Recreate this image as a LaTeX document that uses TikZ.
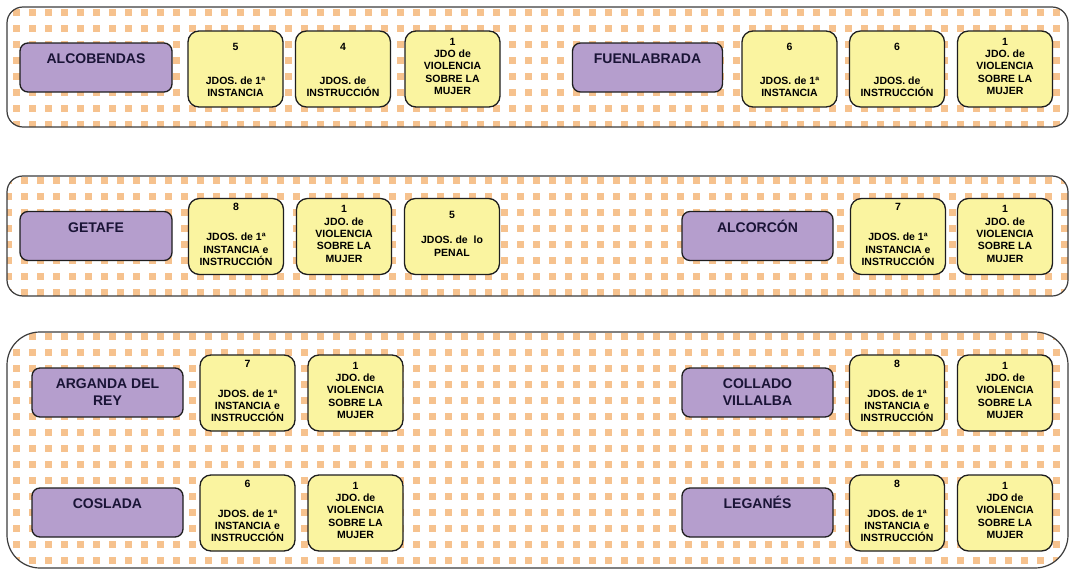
\documentclass[tikz,border=0pt]{standalone}
\usepackage{fontspec}
\setmainfont{Liberation Sans}

\definecolor{panelline}{RGB}{60,60,60}
\definecolor{dotfill}{RGB}{246,194,142}
\definecolor{cityfill}{RGB}{181,158,205}
\definecolor{courtfill}{RGB}{250,244,160}
\definecolor{boxline}{RGB}{30,30,30}
\definecolor{citytextcol}{RGB}{26,20,54}

% first-line struts so every label starts at the same height
\newcommand\citystrut{\rule{0pt}{14pt}}
\newcommand\courtstrut{\rule{0pt}{8pt}}

% orange square grid: x0, y0, last column index, last row index
\newcommand\dotgrid[4]{%
  \foreach \i in {0,...,#3}{%
    \foreach \j in {0,...,#4}{%
      \fill[dotfill] (#1+16*\i-3.5, #2+16*\j-3.5) rectangle ++(7,7);
    }%
  }%
}

\begin{document}
\begin{tikzpicture}[x=1pt,y=-1pt,
  panel/.style={draw=panelline, line width=1.2pt},
  city/.style={draw=boxline, fill=cityfill, line width=1.3pt, rounded corners=8pt,
    minimum width=152pt, minimum height=49pt, inner sep=0pt},
  court/.style={draw=boxline, fill=courtfill, line width=1.3pt, rounded corners=11pt,
    minimum width=95pt, minimum height=76pt, inner sep=0pt},
  citytext/.style={anchor=north, inner sep=0pt, align=center, text=citytextcol,
    font=\fontsize{14}{17}\selectfont\bfseries},
  courttext/.style={anchor=north, inner sep=0pt, align=center, text=black,
    font=\fontsize{10.5}{12.3}\selectfont\bfseries},
]
\useasboundingbox (0,0) rectangle (1071,570);
\fill[white] (0,0) rectangle (1071,570);

% ---------- dotted panels ----------
\begin{scope}
  \clip[rounded corners=16pt] (7,7) rectangle (1068,127);
  \dotgrid{0}{12}{67}{7}
\end{scope}
\draw[panel, rounded corners=16pt] (7,7) rectangle (1068,127);

\begin{scope}
  \clip[rounded corners=16pt] (7,176) rectangle (1068,296);
  \dotgrid{8}{180}{66}{7}
\end{scope}
\draw[panel, rounded corners=16pt] (7,176) rectangle (1068,296);

\begin{scope}
  \clip[rounded corners=33pt] (7,332) rectangle (1068,568);
  \dotgrid{0}{336}{67}{14}
\end{scope}
\draw[panel, rounded corners=33pt] (7,332) rectangle (1068,568);

% ---------- Alcobendas ----------
\node[city] (alc) at (96,67.5) {};
\node[citytext] (alct) at ([yshift=-7pt]alc.north) {\citystrut ALCOBENDAS};
\node[court] (alc1) at (235.5,69) {};
\node[courttext] (alc1t) at ([yshift=-11.75pt]alc1.north) {\courtstrut 5\\[22pt]JDOS. de 1ª\\INSTANCIA};
\node[court] (alc2) at (343,69) {};
\node[courttext] (alc2t) at ([yshift=-11.75pt]alc2.north) {\courtstrut 4\\[22pt]JDOS. de\\INSTRUCCIÓN};
\node[court] (alc3) at (452.5,69) {};
\node[courttext] (alc3t) at ([yshift=-6.75pt]alc3.north) {\courtstrut 1\\JDO de\\VIOLENCIA\\SOBRE LA\\MUJER};

% ---------- Fuenlabrada ----------
\node[city, minimum width=150pt] (fue) at (647.5,67.5) {};
\node[citytext] (fuet) at ([yshift=-7pt]fue.north) {\citystrut FUENLABRADA};
\node[court] (fue1) at (789.5,69) {};
\node[courttext] (fue1t) at ([yshift=-11.75pt]fue1.north) {\courtstrut 6\\[22pt]JDOS. de 1ª\\INSTANCIA};
\node[court] (fue2) at (897,69) {};
\node[courttext] (fue2t) at ([yshift=-11.75pt]fue2.north) {\courtstrut 6\\[22pt]JDOS. de\\INSTRUCCIÓN};
\node[court] (fue3) at (1005,69) {};
\node[courttext] (fue3t) at ([yshift=-6.75pt]fue3.north) {\courtstrut 1\\JDO. de\\VIOLENCIA\\SOBRE LA\\MUJER};

% ---------- Getafe ----------
\node[city] (get) at (96,236) {};
\node[citytext] (gett) at ([yshift=-7pt]get.north) {\citystrut GETAFE};
\node[court] (get1) at (236,236.5) {};
\node[courttext] (get1t) at ([yshift=-4.75pt]get1.north) {\courtstrut 8\\[17.7pt]JDOS. de 1ª\\INSTANCIA e\\INSTRUCCIÓN};
\node[court] (get2) at (344,236.5) {};
\node[courttext] (get2t) at ([yshift=-6.75pt]get2.north) {\courtstrut 1\\JDO. de\\VIOLENCIA\\SOBRE LA\\MUJER};
\node[court] (get3) at (452,236.5) {};
\node[courttext] (get3t) at ([yshift=-12.75pt]get3.north) {\courtstrut 5\\[12.7pt]JDOS. de\ \ lo\\PENAL};

% ---------- Alcorcón ----------
\node[city, minimum width=151pt] (alr) at (757.5,236) {};
\node[citytext] (alrt) at ([yshift=-7pt]alr.north) {\citystrut ALCORCÓN};
\node[court] (alr1) at (898,236.5) {};
\node[courttext] (alr1t) at ([yshift=-4.75pt]alr1.north) {\courtstrut 7\\[17.7pt]JDOS. de 1ª\\INSTANCIA e\\INSTRUCCIÓN};
\node[court] (alr2) at (1005,236.5) {};
\node[courttext] (alr2t) at ([yshift=-6.75pt]alr2.north) {\courtstrut 1\\JDO. de\\VIOLENCIA\\SOBRE LA\\MUJER};

% ---------- Arganda del Rey ----------
\node[city, minimum width=151pt] (arg) at (107.5,392.5) {};
\node[citytext] (argt) at ([yshift=-7pt]arg.north) {\citystrut ARGANDA DEL\\REY};
\node[court] (arg1) at (247.5,393) {};
\node[courttext] (arg1t) at ([yshift=-4.75pt]arg1.north) {\courtstrut 7\\[17.7pt]JDOS. de 1ª\\INSTANCIA e\\INSTRUCCIÓN};
\node[court] (arg2) at (355.5,393) {};
\node[courttext] (arg2t) at ([yshift=-6.75pt]arg2.north) {\courtstrut 1\\JDO. de\\VIOLENCIA\\SOBRE LA\\MUJER};

% ---------- Coslada ----------
\node[city, minimum width=151pt] (cos) at (107.5,512.5) {};
\node[citytext] (cost) at ([yshift=-7pt]cos.north) {\citystrut COSLADA};
\node[court] (cos1) at (247.5,513) {};
\node[courttext] (cos1t) at ([yshift=-4.75pt]cos1.north) {\courtstrut 6\\[17.7pt]JDOS. de 1ª\\INSTANCIA e\\INSTRUCCIÓN};
\node[court] (cos2) at (355.5,513) {};
\node[courttext] (cos2t) at ([yshift=-6.75pt]cos2.north) {\courtstrut 1\\JDO. de\\VIOLENCIA\\SOBRE LA\\MUJER};

% ---------- Collado Villalba ----------
\node[city, minimum width=151pt] (col) at (757.5,392.5) {};
\node[citytext] (colt) at ([yshift=-7pt]col.north) {\citystrut COLLADO\\VILLALBA};
\node[court] (col1) at (897,393) {};
\node[courttext] (col1t) at ([yshift=-4.75pt]col1.north) {\courtstrut 8\\[17.7pt]JDOS. de 1ª\\INSTANCIA e\\INSTRUCCIÓN};
\node[court] (col2) at (1005,393) {};
\node[courttext] (col2t) at ([yshift=-6.75pt]col2.north) {\courtstrut 1\\JDO. de\\VIOLENCIA\\SOBRE LA\\MUJER};

% ---------- Leganés ----------
\node[city, minimum width=151pt] (leg) at (757.5,512.5) {};
\node[citytext] (legt) at ([yshift=-7pt]leg.north) {\citystrut LEGANÉS};
\node[court] (leg1) at (897,513) {};
\node[courttext] (leg1t) at ([yshift=-4.75pt]leg1.north) {\courtstrut 8\\[17.7pt]JDOS. de 1ª\\INSTANCIA e\\INSTRUCCIÓN};
\node[court] (leg2) at (1005,513) {};
\node[courttext] (leg2t) at ([yshift=-6.75pt]leg2.north) {\courtstrut 1\\JDO de\\VIOLENCIA\\SOBRE LA\\MUJER};
\end{tikzpicture}
\end{document}
